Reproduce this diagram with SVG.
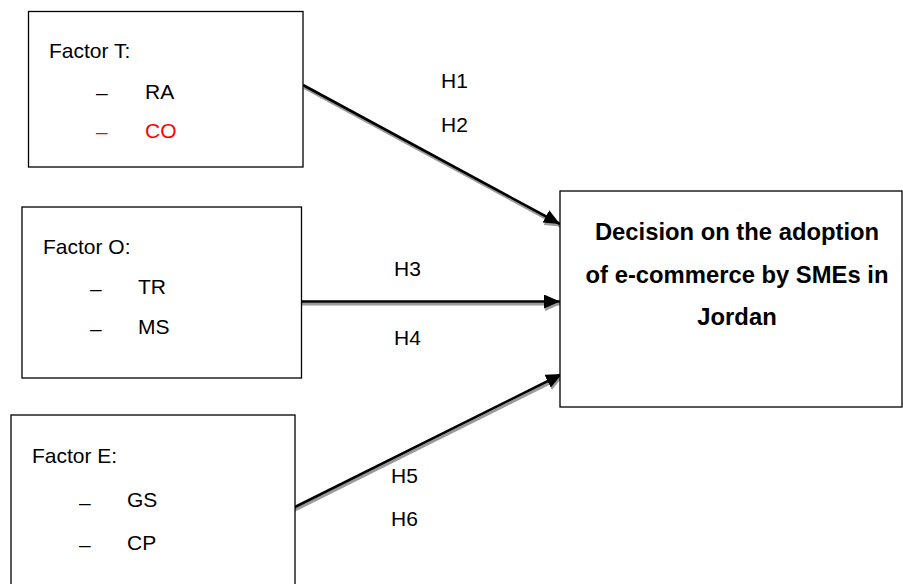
<svg xmlns="http://www.w3.org/2000/svg" width="903" height="584" viewBox="0 0 903 584">
<style>
.box{fill:#fff;stroke:#000;stroke-width:1.3}
.t{font-family:"Liberation Sans",Arial,sans-serif;font-size:21px;fill:#000}
.b{font-family:"Liberation Sans",Arial,sans-serif;font-size:23.8px;font-weight:bold;fill:#000;text-anchor:middle}
.red{fill:#ff0000}
.ln{stroke:#000;stroke-width:2.6;fill:none}
.sh{stroke:#9a9a9a;stroke-width:3;fill:none}
</style>
<defs>
<marker id="ah" markerUnits="userSpaceOnUse" markerWidth="17" markerHeight="15" refX="16" refY="7" orient="auto">
<path d="M0,0 L16,7 L0,14 z" fill="#000"/>
</marker>
<marker id="ahs" markerUnits="userSpaceOnUse" markerWidth="17" markerHeight="15" refX="16" refY="7" orient="auto">
<path d="M0,0 L16,7 L0,14 z" fill="#9a9a9a"/>
</marker>
</defs>
<rect width="903" height="584" fill="#fff"/>
<g id="connectors">
<g transform="translate(1,2.5)">
<line class="sh" x1="303" y1="85" x2="560" y2="224" marker-end="url(#ahs)"/>
<line class="sh" x1="301" y1="301.5" x2="560" y2="301.5" marker-end="url(#ahs)"/>
<line class="sh" x1="293" y1="508" x2="562" y2="374" marker-end="url(#ahs)"/>
</g>
<line class="ln" x1="303" y1="85" x2="560" y2="224" marker-end="url(#ah)"/>
<line class="ln" x1="301" y1="301.5" x2="560" y2="301.5" marker-end="url(#ah)"/>
<line class="ln" x1="293" y1="508" x2="562" y2="374" marker-end="url(#ah)"/>
<text class="t" x="441" y="88">H1</text>
<text class="t" x="441" y="132">H2</text>
<text class="t" x="394" y="276">H3</text>
<text class="t" x="394" y="345">H4</text>
<text class="t" x="391" y="483">H5</text>
<text class="t" x="391" y="526">H6</text>
</g>
<g id="factorT">
<rect class="box" x="28.5" y="11.5" width="274.5" height="155.5"/>
<text class="t" x="49" y="58">Factor T:</text>
<text class="t" x="96" y="100">–</text>
<text class="t" x="145" y="99">RA</text>
<text class="t red" x="96" y="139">–</text>
<text class="t red" x="145" y="138">CO</text>
</g>
<g id="factorO">
<rect class="box" x="22" y="207" width="279.5" height="171"/>
<text class="t" x="43" y="254">Factor O:</text>
<text class="t" x="90" y="296">–</text>
<text class="t" x="138" y="294">TR</text>
<text class="t" x="90" y="336">–</text>
<text class="t" x="138" y="334">MS</text>
</g>
<g id="factorE">
<rect class="box" x="11" y="415" width="284" height="180"/>
<text class="t" x="32" y="463">Factor E:</text>
<text class="t" x="79" y="510">–</text>
<text class="t" x="127" y="507">GS</text>
<text class="t" x="79" y="552">–</text>
<text class="t" x="127" y="550">CP</text>
</g>
<g id="decision">
<rect class="box" x="560" y="191" width="342" height="216"/>
<text class="b" x="737" y="240">Decision on the adoption</text>
<text class="b" x="737" y="283">of e-commerce by SMEs in</text>
<text class="b" x="737" y="325">Jordan</text>
</g>
</svg>
